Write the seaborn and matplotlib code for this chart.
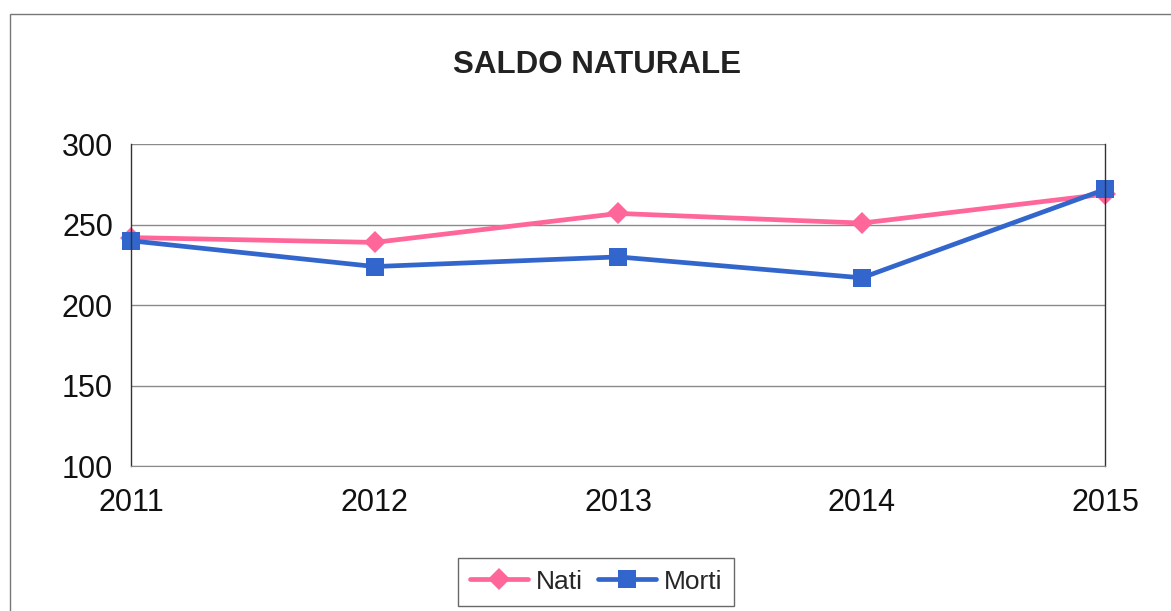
import pandas as pd
import matplotlib.pyplot as plt
import matplotlib.patches as mpatches
import seaborn as sns

# Data
anni = ["2011", "2012", "2013", "2014", "2015"]
nati = [242, 239, 257, 251, 269]
morti = [240, 224, 230, 217, 272]

df = pd.DataFrame({
    "Anno": anni * 2,
    "Valore": nati + morti,
    "Serie": ["Nati"] * len(anni) + ["Morti"] * len(anni),
})

sns.set_style("white")
plt.rcParams["font.family"] = ["Liberation Sans", "DejaVu Sans"]

fig = plt.figure(figsize=(11.71, 6.11), dpi=100)
ax = fig.add_axes([0.112, 0.237, 0.832, 0.527])

colori = {"Nati": "#FF6699", "Morti": "#3366CC"}
sns.lineplot(data=df, x="Anno", y="Valore", hue="Serie", style="Serie",
             palette=colori, markers={"Nati": "D", "Morti": "s"},
             dashes=False, linewidth=3.4, markeredgewidth=0,
             ax=ax, legend=False)
for line, ms in zip(ax.lines, [11, 13.5]):
    line.set_markersize(ms)
    line.set_clip_on(False)

ax.set_xlim(0, 4)
ax.set_ylim(100, 300)
ax.set_yticks([100, 150, 200, 250, 300])
ax.set_xlabel("")
ax.set_ylabel("")
ax.grid(axis="y", color="#8a8a8a", linewidth=1)
ax.set_axisbelow(True)
ax.spines["top"].set_visible(False)
for s in ["left", "right"]:
    ax.spines[s].set_color("#333333")
    ax.spines[s].set_linewidth(1)
ax.spines["bottom"].set_color("#8a8a8a")
ax.tick_params(axis="both", which="both", direction="out", length=7,
               width=1, color="#555555", labelsize=22, colors="#111111")
ax.tick_params(axis="x", pad=9)
ax.tick_params(axis="y", pad=6)

fig.text(0.51, 0.893, "SALDO NATURALE", ha="center", va="center",
         fontsize=22.5, fontweight="bold", color="#222222")

handles = [
    plt.Line2D([], [], color=colori["Nati"], marker="D", markersize=11,
               linewidth=3.4, markeredgewidth=0),
    plt.Line2D([], [], color=colori["Morti"], marker="s", markersize=13.5,
               linewidth=3.4, markeredgewidth=0),
]
leg = fig.legend(handles, ["Nati", "Morti"], loc="center",
                 bbox_to_anchor=(0.509, 0.048), ncol=2, fontsize=19,
                 frameon=True, fancybox=False, handlelength=2.2,
                 columnspacing=0.55, handletextpad=0.3, borderpad=0.45)
leg.get_frame().set_edgecolor("#444444")
leg.get_frame().set_linewidth(1)

# outer chart border
fig.patches.append(mpatches.Rectangle((0.0085, -0.1), 1.2, 1.077,
                                      transform=fig.transFigure, fill=False,
                                      edgecolor="#777777", linewidth=1))

fig.savefig("out.png", dpi=100)
